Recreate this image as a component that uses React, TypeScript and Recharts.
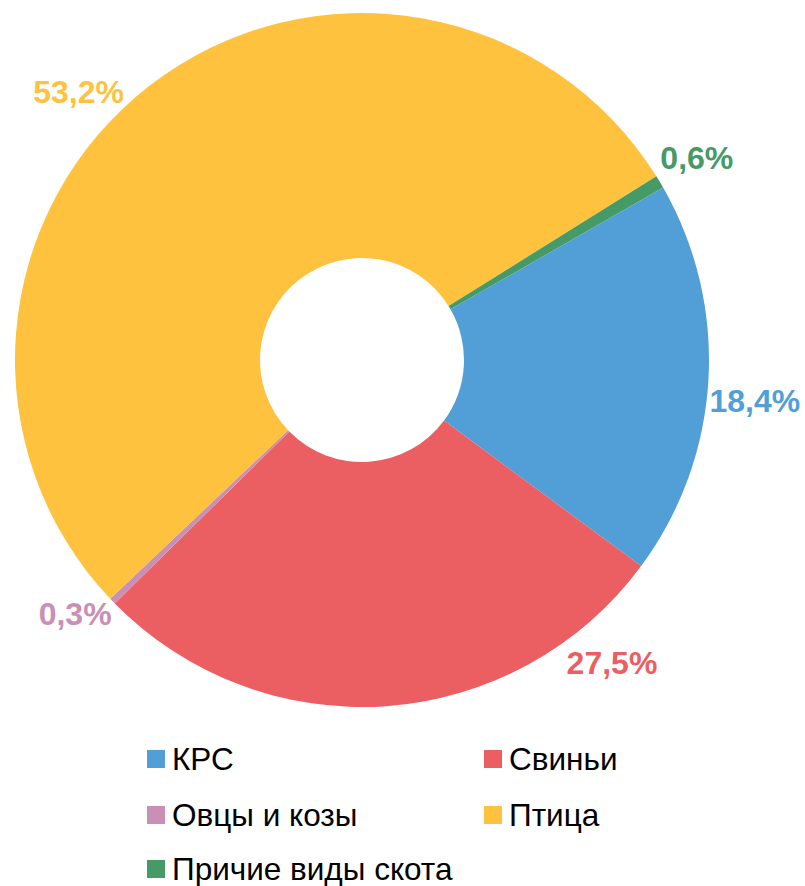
import React from 'react';
import { PieChart, Pie, Cell, Legend } from 'recharts';

const categories = ['КРС', 'Свиньи', 'Овцы и козы', 'Птица', 'Причие виды скота'];
const shares = [18.4, 27.5, 0.3, 53.2, 0.6];
const colors = ['#529fd8', '#eb5f62', '#c98fb5', '#fec23f', '#469a67'];

// where each percentage label sits (degrees, distance from centre)
const labelAngles = [-6, -50.5, -138.5, 136.6, 31.1];
const labelRadius = [395, 393, 383, 390, 391];

const data = categories.map((name, i) => ({ name, value: shares[i] }));

const RAD = Math.PI / 180;

const renderLabel = (props: any) => {
  const { cx, cy, index } = props;
  const a = labelAngles[index] * RAD;
  const r = labelRadius[index];
  const x = cx + r * Math.cos(a);
  const y = cy - r * Math.sin(a);
  return (
    <text
      x={x}
      y={y}
      fill={colors[index]}
      textAnchor="middle"
      dominantBaseline="central"
      fontSize={32}
      fontWeight="bold"
      fontFamily="'Liberation Sans', Arial, sans-serif"
    >
      {shares[index].toFixed(1).replace('.', ',')}%
    </text>
  );
};

const legendPos = [
  { left: 147, top: 0 },
  { left: 484, top: 0 },
  { left: 147, top: 56 },
  { left: 484, top: 56 },
  { left: 147, top: 110 },
];

const renderLegend = () => (
  <div style={{ position: 'relative', width: 805, height: 140, fontFamily: "'Liberation Sans', Arial, sans-serif" }}>
    {categories.map((c, i) => (
      <div
        key={c}
        style={{ position: 'absolute', left: legendPos[i].left, top: legendPos[i].top, display: 'flex', alignItems: 'center', height: 36 }}
      >
        <span style={{ width: 18, height: 18, background: colors[i], display: 'inline-block', marginRight: 7 }} />
        <span style={{ fontSize: 31.5, color: '#000', lineHeight: '36px' }}>{c}</span>
      </div>
    ))}
  </div>
);

export default function App() {
  return (
    <div style={{ position: 'absolute', left: 0, top: 0, width: 805, height: 886, background: '#fff' }}>
      <PieChart width={805} height={886} margin={{ top: 0, right: 0, bottom: 0, left: 0 }}>
        <Pie
          data={data}
          dataKey="value"
          nameKey="name"
          cx={362}
          cy={360}
          innerRadius={102}
          outerRadius={347}
          startAngle={29.8}
          endAngle={29.8 - 360}
          stroke="none"
          label={renderLabel}
          labelLine={false}
          isAnimationActive={false}
        >
          {data.map((d, i) => (
            <Cell key={d.name} fill={colors[i]} />
          ))}
        </Pie>
        <Legend content={renderLegend} wrapperStyle={{ left: 0, top: 741, width: 805 }} />
      </PieChart>
    </div>
  );
}
